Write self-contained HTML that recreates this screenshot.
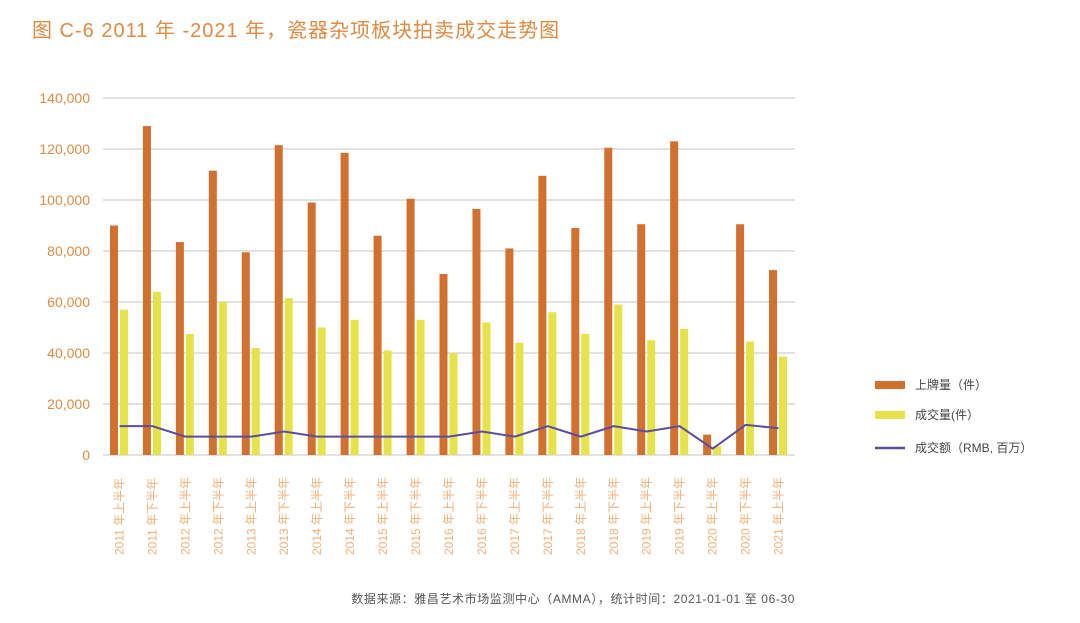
<!DOCTYPE html>
<html><head><meta charset="utf-8"><style>
body{margin:0;background:#fff;width:1080px;height:618px;overflow:hidden;font-family:"Liberation Sans","Noto Sans CJK SC",sans-serif}
</style></head><body>
<svg id="c" width="1080" height="618" xmlns="http://www.w3.org/2000/svg" font-family="Liberation Sans, Noto Sans CJK SC, sans-serif">
<text x="32" y="37" font-size="20" letter-spacing="1" fill="#e08a44">图 C-6  2011 年 -2021 年，瓷器杂项板块拍卖成交走势图</text>
<text x="795" y="603" font-size="12" letter-spacing="0.6" fill="#555" text-anchor="end">数据来源：雅昌艺术市场监测中心（AMMA），统计时间：2021-01-01 至 06-30</text>
<g id="legend">
<rect x="875" y="381" width="30" height="8" fill="#d2712f"/>
<text x="915" y="389" font-size="12" fill="#444">上牌量（件）</text>
<rect x="875" y="411" width="30" height="8" fill="#e6e24a"/>
<text x="915" y="419" font-size="12" fill="#444">成交量(件）</text>
<line x1="875" y1="448" x2="905" y2="448" stroke="#5b4e9c" stroke-width="2.5"/>
<text x="915" y="452" font-size="12" fill="#444">成交额（RMB, 百万）</text>
</g>
</svg>
<script>
const categories=["2011 年上半年","2011 年下半年","2012 年上半年","2012 年下半年","2013 年上半年","2013 年下半年","2014 年上半年","2014 年下半年","2015 年上半年","2015 年下半年","2016 年上半年","2016 年下半年","2017 年上半年","2017 年下半年","2018 年上半年","2018 年下半年","2019 年上半年","2019 年下半年","2020 年上半年","2020 年下半年","2021 年上半年"];
const listed=[90000,129000,83500,111500,79500,121500,99000,118500,86000,100500,71000,96500,81000,109500,89000,120500,90500,123000,8000,90500,72500];
const sold=[57000,64000,47500,60000,42000,61500,50000,53000,41000,53000,40000,52000,44000,56000,47500,59000,45000,49500,3500,44500,38500];
const amount=[11300,11300,7200,7200,7200,9200,7200,7200,7200,7200,7200,9200,7200,11300,7200,11300,9200,11300,2500,11800,10500];
const yTicks=[0,20000,40000,60000,80000,100000,120000,140000];
const NS="http://www.w3.org/2000/svg",svg=document.getElementById('c');
const x0=103,x1=795,yb=455,yt=98,ymax=140000;
const bw=(x1-x0)/categories.length;
const y=v=>yb-(v/ymax)*(yb-yt);
const xc=i=>x0+bw*(i+0.5);
function mk(t,a){const e=document.createElementNS(NS,t);for(const k in a)e.setAttribute(k,a[k]);svg.appendChild(e);return e;}
yTicks.forEach(v=>{
 const l=mk('line',{x1:x0,x2:x1,y1:y(v),y2:y(v),stroke:'#d0d0d0','stroke-width':1.2});
 
 
 const t=mk('text',{x:90,y:y(v)+5,'font-size':14,fill:'#e08a44','text-anchor':'end'});
 t.textContent=v.toLocaleString('en-US');
 
 
});
categories.forEach((c,i)=>{
 const a=mk('rect',{x:xc(i)-9.5,y:y(listed[i]),width:8,height:yb-y(listed[i]),fill:'#d2712f'});
 
 
 const b=mk('rect',{x:xc(i)+0.5,y:y(sold[i]),width:8,height:yb-y(sold[i]),fill:'#e6e24a'});
 
 
 const t=mk('text',{x:0,y:0,'font-size':12,fill:'#f2b07a','text-anchor':'start',transform:`translate(${xc(i)+4},555) rotate(-90)`});
 t.textContent=c;
 
 
});
const p=mk('polyline',{points:amount.map((v,i)=>xc(i)+','+y(v)).join(' '),fill:'none',stroke:'#5b4e9c','stroke-width':2});


</script>
</body></html>
